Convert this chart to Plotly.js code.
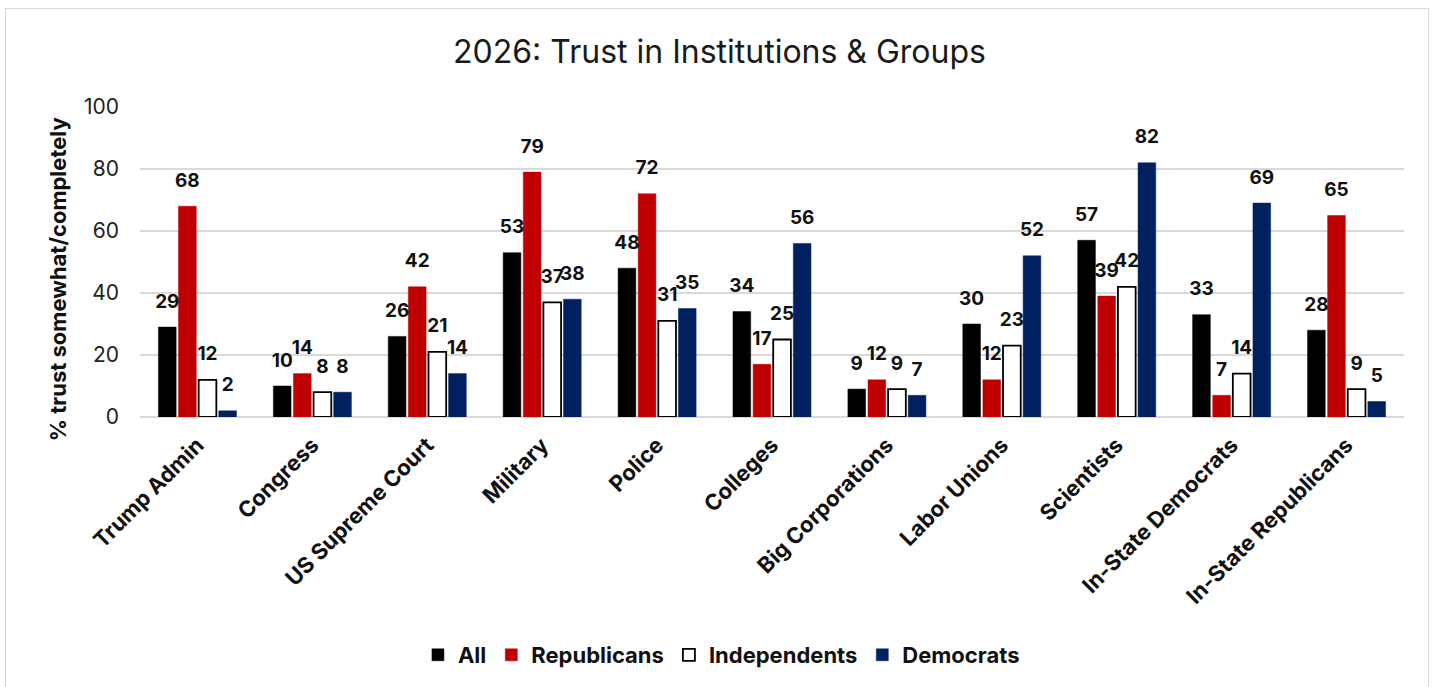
<!DOCTYPE html>
<html>
<head>
<meta charset="utf-8">
<script src="https://cdn.plot.ly/plotly-3.0.1.min.js"></script>
<style>
html,body{margin:0;padding:0;background:#fff;}
#frame{position:absolute;left:5px;top:8px;width:1424px;height:690px;border:1.5px solid #d9d9d9;box-sizing:border-box;}
#chart{position:absolute;left:0;top:0;width:1439px;height:687px;}
</style>
</head>
<body>
<div id="frame"></div>
<div id="chart"></div>
<script>
const categories = ["Trump Admin","Congress","US Supreme Court","Military","Police","Colleges","Big Corporations","Labor Unions","Scientists","In-State Democrats","In-State Republicans"];
const allVals = [29,10,26,53,48,34,9,30,57,33,28];
const repVals = [68,14,42,79,72,17,12,12,39,7,65];
const indVals = [12,8,21,37,31,25,9,23,42,14,9];
const demVals = [2,8,14,38,35,56,7,52,82,69,5];
const yTicks = [0,20,40,60,80,100];

const font = "Inter, Liberation Sans, Arial, sans-serif";
function bars(name, vals, fill, line, lw, grp){
  return {
    type:'bar', name:name, x:categories, y:vals, offsetgroup:grp,
    marker:{color:fill, line:{color:line, width:lw}},
    hoverinfo:'skip'
  };
}
function labels(vals, grp){
  return {
    type:'scatter', mode:'markers+text', x:categories, y:vals, offsetgroup:grp,
    marker:{size:22, opacity:0, color:'#fff'},
    text:vals.map(String), textposition:'top center',
    textfont:{family:font, size:19, color:'#111', weight:'bold'},
    cliponaxis:false, showlegend:false, hoverinfo:'skip'
  };
}
const data = [
  bars('All', allVals, '#000000', '#000000', 0.5, 'a'),
  bars('Republicans', repVals, '#C00000', '#C00000', 0.5, 'b'),
  bars('Independents', indVals, '#ffffff', '#000000', 1.8, 'c'),
  bars('Democrats', demVals, '#002060', '#002060', 0.5, 'd'),
  labels(allVals, 'a'), labels(repVals, 'b'), labels(indVals, 'c'), labels(demVals, 'd')
];
const layout = {
  width:1439, height:687,
  paper_bgcolor:'rgba(0,0,0,0)', plot_bgcolor:'rgba(0,0,0,0)',
  margin:{l:140, r:35, t:107, b:269},
  barmode:'group', bargap:0.3, bargroupgap:0.12,
  scattermode:'group', scattergap:0.3,
  title:{text:'2026: Trust in Institutions & Groups', x:0.5, xref:'container', y:0.924, yref:'container', yanchor:'middle',
         font:{family:font, size:32, color:'#1a1a1a'}},
  xaxis:{tickangle:-45, tickfont:{family:font, size:22, color:'#111', weight:'bold'},
         showgrid:false, showline:false, ticks:'', automargin:false, ticklabelstandoff:10},
  yaxis:{range:[0,100], tickvals:yTicks, ticktext:yTicks.map(String),
         tickfont:{family:font, size:21, color:'#222'}, ticklabelstandoff:20,
         gridcolor:'#d9d9d9', gridwidth:1.5, zeroline:true, zerolinecolor:'#d9d9d9', zerolinewidth:1.5,
         showline:false, ticks:'', automargin:false},
  annotations:[{text:'% trust somewhat/completely', textangle:-90, xref:'paper', x:0, xshift:-82, xanchor:'center',
                yref:'paper', y:0.444, yanchor:'middle', showarrow:false,
                font:{family:font, size:22, color:'#111', weight:'bold'}}],
  showlegend:true,
  legend:{orientation:'h', x:0.46, xanchor:'center', y:-0.762, yanchor:'middle',
          font:{family:font, size:22, color:'#111', weight:'bold'}, itemwidth:20, traceorder:'normal'},
};
Plotly.newPlot('chart', data, layout, {displayModeBar:false, staticPlot:true});
</script>
</body>
</html>
